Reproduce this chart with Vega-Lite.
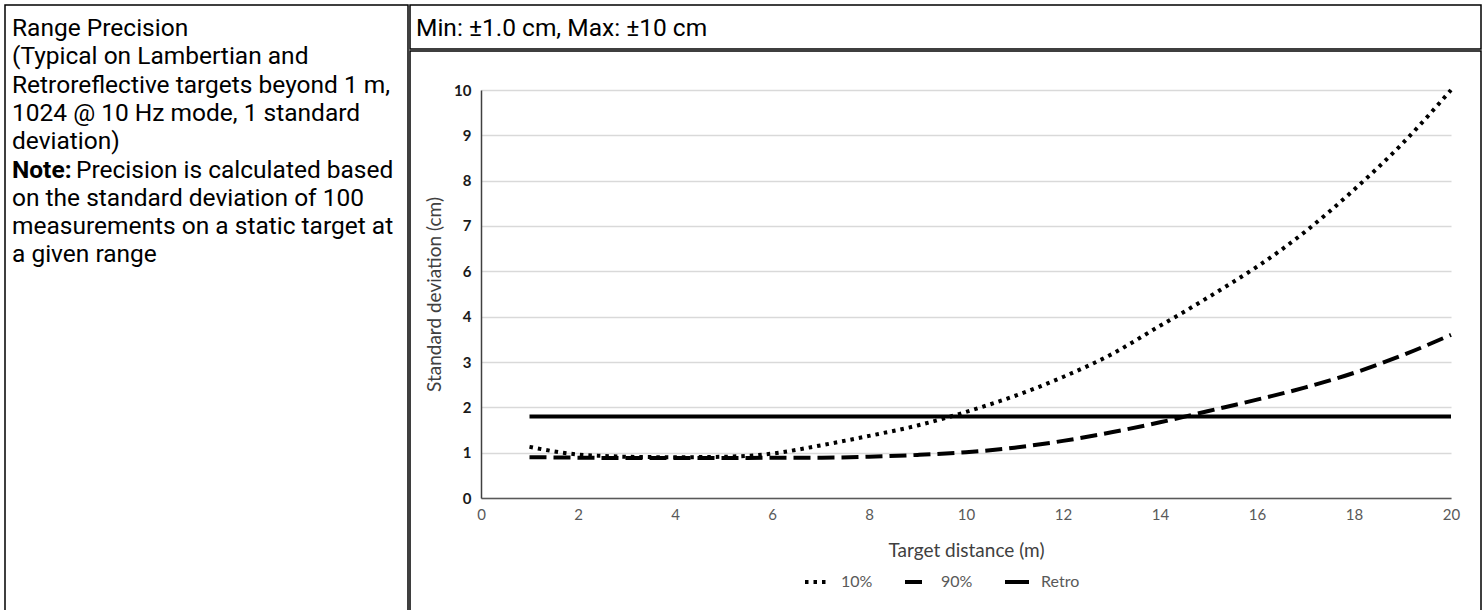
{
  "$schema": "https://vega.github.io/schema/vega-lite/v6.json",
  "padding": {"left": 4, "top": 4, "right": 0, "bottom": 0},
  "background": "white",
  "config": {
    "view": {"stroke": "#000000", "strokeWidth": 1.5},
    "concat": {"spacing": 0},
    "font": "Roboto"
  },
  "datasets": {
    "notes": [
      {"line": 0, "part": "body", "text": "Range Precision"},
      {"line": 1, "part": "body", "text": "(Typical on Lambertian and"},
      {"line": 2, "part": "body", "text": "Retroreflective targets beyond 1 m,"},
      {"line": 3, "part": "body", "text": "1024 @ 10 Hz mode, 1 standard"},
      {"line": 4, "part": "body", "text": "deviation)"},
      {"line": 5, "part": "bold", "text": "Note:"},
      {"line": 5, "part": "cont", "text": "Precision is calculated based"},
      {"line": 6, "part": "body", "text": "on the standard deviation of 100"},
      {"line": 7, "part": "body", "text": "measurements on a static target at"},
      {"line": 8, "part": "body", "text": "a given range"}
    ],
    "precision": [
      {"series": "10%", "distance": 1, "sd": 1.13},
      {"series": "10%", "distance": 1.5, "sd": 1.03},
      {"series": "10%", "distance": 2, "sd": 0.96},
      {"series": "10%", "distance": 2.5, "sd": 0.93},
      {"series": "10%", "distance": 3, "sd": 0.91},
      {"series": "10%", "distance": 4, "sd": 0.9},
      {"series": "10%", "distance": 5, "sd": 0.91},
      {"series": "10%", "distance": 6, "sd": 0.98},
      {"series": "10%", "distance": 7, "sd": 1.16},
      {"series": "10%", "distance": 8, "sd": 1.37},
      {"series": "10%", "distance": 9, "sd": 1.6},
      {"series": "10%", "distance": 10, "sd": 1.9},
      {"series": "10%", "distance": 11, "sd": 2.25},
      {"series": "10%", "distance": 12, "sd": 2.67},
      {"series": "10%", "distance": 13, "sd": 3.17},
      {"series": "10%", "distance": 14, "sd": 3.8},
      {"series": "10%", "distance": 14.5, "sd": 4.22},
      {"series": "10%", "distance": 15, "sd": 4.86},
      {"series": "10%", "distance": 15.5, "sd": 5.52},
      {"series": "10%", "distance": 16, "sd": 6.1},
      {"series": "10%", "distance": 17, "sd": 6.88},
      {"series": "10%", "distance": 18, "sd": 7.8},
      {"series": "10%", "distance": 19, "sd": 8.82},
      {"series": "10%", "distance": 20, "sd": 10},
      {"series": "90%", "distance": 1, "sd": 0.9},
      {"series": "90%", "distance": 2, "sd": 0.89},
      {"series": "90%", "distance": 3, "sd": 0.88},
      {"series": "90%", "distance": 4, "sd": 0.88},
      {"series": "90%", "distance": 5, "sd": 0.88},
      {"series": "90%", "distance": 6, "sd": 0.89},
      {"series": "90%", "distance": 7, "sd": 0.89},
      {"series": "90%", "distance": 8, "sd": 0.91},
      {"series": "90%", "distance": 9, "sd": 0.95},
      {"series": "90%", "distance": 10, "sd": 1.01},
      {"series": "90%", "distance": 11, "sd": 1.11},
      {"series": "90%", "distance": 12, "sd": 1.26},
      {"series": "90%", "distance": 13, "sd": 1.45},
      {"series": "90%", "distance": 14, "sd": 1.67},
      {"series": "90%", "distance": 15, "sd": 1.92},
      {"series": "90%", "distance": 16, "sd": 2.17},
      {"series": "90%", "distance": 17, "sd": 2.44},
      {"series": "90%", "distance": 18, "sd": 2.76},
      {"series": "90%", "distance": 19, "sd": 3.15},
      {"series": "90%", "distance": 20, "sd": 3.6},
      {"series": "Retro", "distance": 1, "sd": 1.8},
      {"series": "Retro", "distance": 20, "sd": 1.8}
    ]
  },
  "hconcat": [
    {
      "width": 403,
      "height": 614,
      "data": {"name": "notes"},
      "layer": [
        {
          "transform": [{"filter": "datum.part == 'body'"}],
          "mark": {"type": "text", "align": "left", "baseline": "alphabetic", "font": "Roboto", "fontSize": 24.5, "dx": 7, "color": "#000000"},
          "encoding": {
            "x": {"datum": 0, "type": "quantitative", "scale": {"domain": [0, 1], "range": [0, 403]}, "axis": null},
            "y": {"field": "line", "type": "quantitative", "scale": {"domain": [0, 8], "range": [31, 257.4]}, "axis": null},
            "text": {"field": "text"}
          }
        },
        {
          "transform": [{"filter": "datum.part == 'bold'"}],
          "mark": {"type": "text", "align": "left", "baseline": "alphabetic", "font": "Roboto", "fontSize": 24.5, "fontWeight": "bold", "dx": 7, "color": "#000000"},
          "encoding": {
            "x": {"datum": 0, "type": "quantitative", "scale": {"domain": [0, 1], "range": [0, 403]}, "axis": null},
            "y": {"field": "line", "type": "quantitative", "scale": {"domain": [0, 8], "range": [31, 257.4]}, "axis": null},
            "text": {"field": "text"}
          }
        },
        {
          "transform": [{"filter": "datum.part == 'cont'"}],
          "mark": {"type": "text", "align": "left", "baseline": "alphabetic", "font": "Roboto", "fontSize": 24.5, "dx": 71, "color": "#000000"},
          "encoding": {
            "x": {"datum": 0, "type": "quantitative", "scale": {"domain": [0, 1], "range": [0, 403]}, "axis": null},
            "y": {"field": "line", "type": "quantitative", "scale": {"domain": [0, 8], "range": [31, 257.4]}, "axis": null},
            "text": {"field": "text"}
          }
        }
      ]
    },
    {
      "spacing": 0,
      "vconcat": [
        {
          "width": 1071,
          "height": 44,
          "data": {"values": [{"text": "Min: ±1.0 cm, Max: ±10 cm"}]},
          "mark": {"type": "text", "align": "left", "baseline": "middle", "font": "Roboto", "fontSize": 24.5, "dx": 6, "dy": 2, "color": "#000000"},
          "encoding": {
            "x": {"datum": 0, "type": "quantitative", "scale": {"domain": [0, 1], "range": [0, 1071]}, "axis": null},
            "text": {"field": "text"}
          }
        },
        {
          "width": 1071,
          "height": 570,
          "data": {"name": "precision"},
          "mark": {"type": "line", "strokeWidth": 4, "color": "#000000", "interpolate": "monotone", "strokeCap": "butt"},
          "encoding": {
            "x": {
              "field": "distance", "type": "quantitative",
              "scale": {"domain": [0, 20], "range": [71, 1041], "nice": false, "zero": false},
              "axis": {
                "title": "Target distance (m)", "offset": -123, "values": [0, 2, 4, 6, 8, 10, 12, 14, 16, 18, 20],
                "grid": false, "ticks": false, "domainColor": "#595959", "domainWidth": 1.5,
                "labelFont": "Lato", "labelFontSize": 15, "labelColor": "#595959", "labelPadding": 9, "labelFlush": false, "labelOverlap": false,
                "titleFont": "Lato", "titleFontSize": 19, "titleFontWeight": "normal", "titleColor": "#404040", "titlePadding": 19
              }
            },
            "y": {
              "field": "sd", "type": "quantitative",
              "scale": {"domain": [0, 4, 6, 10], "range": [447, 265.7, 220.3, 39], "nice": false, "zero": false},
              "axis": {
                "title": "Standard deviation (cm)", "offset": -71, "values": [0, 1, 2, 3, 4, 6, 7, 8, 9, 10],
                "ticks": false, "domainColor": "#404040", "domainWidth": 1.5,
                "gridColor": "#d9d9d9", "gridWidth": 1.3,
                "labelFont": "Lato", "labelFontSize": 15, "labelFontWeight": "bold", "labelColor": "#1a1a1a", "labelPadding": 10, "labelOverlap": false,
                "titleFont": "Lato", "titleFontSize": 19, "titleFontWeight": "normal", "titleColor": "#404040", "titlePadding": 9
              }
            },
            "strokeDash": {
              "field": "series", "type": "nominal",
              "scale": {"domain": ["10%", "90%", "Retro"], "range": [[3.5, 5], [17, 7], [1, 0]]},
              "legend": {
                "orient": "none", "legendX": 798, "legendY": 563, "direction": "horizontal", "title": null,
                "symbolType": "stroke", "symbolSize": 576, "symbolStrokeWidth": 4, "symbolStrokeColor": "#000000",
                "labelFont": "Lato", "labelFontSize": 16, "labelColor": "#595959", "labelOffset": 10, "columnPadding": 24
              }
            }
          }
        }
      ]
    }
  ]
}
